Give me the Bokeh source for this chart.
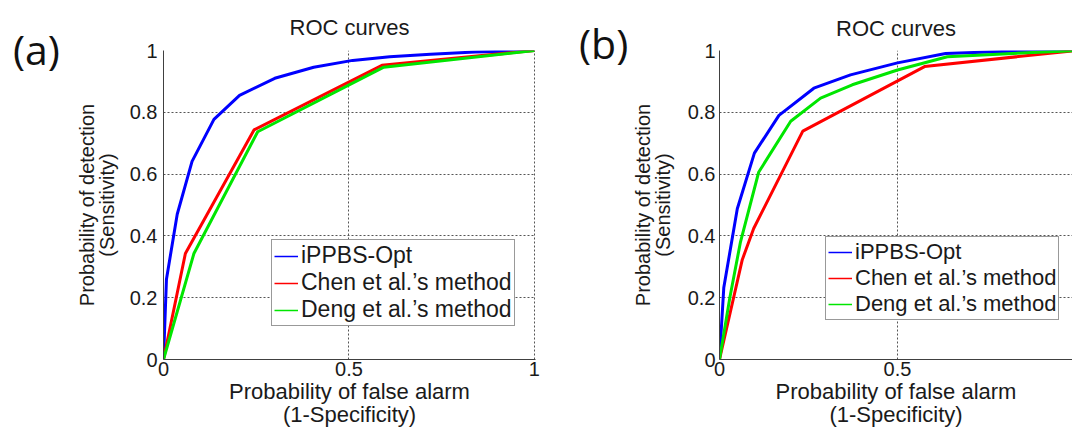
from bokeh.plotting import figure
from bokeh.models import FixedTicker, Range1d, Legend, LegendItem, Div
from bokeh.layouts import row
from bokeh.embed import file_html
from bokeh.resources import INLINE

# ---------------- data ----------------
series_names = ["iPPBS-Opt", "Chen et al.\u2019s method", "Deng et al.\u2019s method"]
series_colors = ["#0000ff", "#ff0000", "#00e600"]

# panel (a)
a_fpr_ippbs = [0, 0.008, 0.037, 0.077, 0.136, 0.205, 0.3, 0.405, 0.51, 0.61, 0.72, 0.84, 1.0]
a_tpr_ippbs = [0, 0.26, 0.47, 0.641, 0.777, 0.855, 0.91, 0.946, 0.968, 0.98, 0.988, 0.995, 1.0]
a_fpr_chen = [0, 0.059, 0.244, 0.589, 1.0]
a_tpr_chen = [0, 0.343, 0.743, 0.952, 1.0]
a_fpr_deng = [0, 0.082, 0.254, 0.594, 1.0]
a_tpr_deng = [0, 0.343, 0.737, 0.946, 1.0]

# panel (b)
b_fpr_ippbs = [0, 0.012, 0.05, 0.098, 0.167, 0.265, 0.368, 0.5, 0.635, 0.8, 1.0]
b_tpr_ippbs = [0, 0.232, 0.488, 0.668, 0.79, 0.878, 0.921, 0.96, 0.99, 0.997, 1.0]
b_fpr_chen = [0, 0.064, 0.096, 0.234, 0.576, 1.0]
b_tpr_chen = [0, 0.323, 0.424, 0.739, 0.948, 1.0]
b_fpr_deng = [0, 0.029, 0.059, 0.11, 0.2, 0.284, 0.373, 0.5, 0.64, 1.0]
b_tpr_deng = [0, 0.2, 0.381, 0.606, 0.771, 0.846, 0.889, 0.937, 0.98, 1.0]

x_ticks = [0, 0.5, 1]
x_tick_labels = ["0", "0.5", "1"]
y_ticks = [0, 0.2, 0.4, 0.6, 0.8, 1]
y_tick_labels = ["0", "0.2", "0.4", "0.6", "0.8", "1"]

title_text = "ROC curves"
x_label = "Probability of false alarm\n(1-Specificity)"
y_label = "Probability of detection\n(Sensitivity)"
panel_tags = ["(a)", "(b)"]

FONT = "Liberation Sans"
TXT = "#1a1a1a"
NAN = float("nan")


def make_panel(curves, width, border_left, border_right, border_top,
               border_bottom, x_end, legend_loc, legend_font,
               ylab_standoff, ytick_standoff, title_standoff):
    p = figure(width=width, height=432, output_backend="svg", toolbar_location=None,
               x_range=Range1d(0, x_end), y_range=Range1d(0, 1),
               min_border_left=border_left, min_border_right=border_right,
               min_border_top=border_top, min_border_bottom=border_bottom)
    p.outline_line_color = None
    p.background_fill_color = "white"
    p.border_fill_color = "white"

    p.title.text = title_text
    p.title.align = "center"
    p.title.text_font = FONT
    p.title.text_font_style = "normal"
    p.title.text_font_size = "22px"
    p.title.text_color = TXT
    p.title.standoff = title_standoff

    for ax, ticks, labels in ((p.xaxis[0], x_ticks, x_tick_labels),
                              (p.yaxis[0], y_ticks, y_tick_labels)):
        ax.ticker = FixedTicker(ticks=ticks)
        ax.major_label_overrides = {t: l for t, l in zip(ticks, labels)}
        ax.minor_tick_line_color = None
        ax.major_tick_in = 0
        ax.major_tick_out = 0
        ax.axis_line_color = "#404040"
        ax.axis_line_width = 1
        ax.major_label_text_font = FONT
        ax.major_label_text_font_size = "20px"
        ax.major_label_text_color = TXT
        ax.axis_label_text_font = FONT
        ax.axis_label_text_font_style = "normal"
        ax.axis_label_text_color = TXT
    p.xaxis.axis_label = x_label
    p.xaxis.axis_label_text_font_size = "22px"
    p.xaxis.axis_label_text_line_height = 0.92
    p.xaxis.major_label_standoff = 2
    p.xaxis.axis_label_standoff = 0
    p.yaxis.axis_label = y_label
    p.yaxis.axis_label_text_font_size = "20px"
    p.yaxis.axis_label_text_line_height = 0.9
    p.yaxis.major_label_standoff = ytick_standoff
    p.yaxis.axis_label_standoff = ylab_standoff

    for g in p.grid:
        g.grid_line_color = "#555555"
        g.grid_line_dash = "2 2"
        g.grid_line_width = 1

    items = []
    for (xs, ys), name, col in zip(curves, series_names, series_colors):
        p.line(xs, ys, line_color=col, line_width=3)
        proxy = p.line(x=[NAN], y=[NAN], line_color=col, line_width=1.5)
        items.append(LegendItem(label=name, renderers=[proxy]))

    leg = Legend(items=items, location=legend_loc)
    leg.label_text_font = FONT
    leg.label_text_font_size = legend_font
    leg.label_text_color = TXT
    leg.glyph_width = 24
    leg.glyph_height = 20
    leg.label_height = 20
    leg.label_standoff = 3
    leg.spacing = 0
    leg.padding = 2
    leg.margin = 0
    leg.border_line_color = "#333333"
    leg.border_line_width = 1
    leg.background_fill_alpha = 1
    p.add_layout(leg)
    return p


def make_tag(text, width, pad_left, pad_top):
    return Div(text=text, width=width, height=432, margin=0,
               styles={"font-family": "Open Sans", "font-size": "41px",
                       "line-height": "41px", "color": "#111111",
                       "padding-left": f"{pad_left}px", "padding-top": f"{pad_top}px",
                       "box-sizing": "border-box", "white-space": "nowrap",
                       "overflow": "visible"})


tag_a = make_tag(panel_tags[0], 62, 13, 29)
pa = make_panel([(a_fpr_ippbs, a_tpr_ippbs), (a_fpr_chen, a_tpr_chen), (a_fpr_deng, a_tpr_deng)],
                width=508, border_left=101, border_right=35, border_top=50, border_bottom=70,
                x_end=1.003, legend_loc=(108, 33), legend_font="23px",
                ylab_standoff=9, ytick_standoff=6, title_standoff=22)
tag_b = make_tag(panel_tags[1], 58, 9, 23)
pb = make_panel([(b_fpr_ippbs, b_tpr_ippbs), (b_fpr_chen, b_tpr_chen), (b_fpr_deng, b_tpr_deng)],
                width=444, border_left=91, border_right=0, border_top=47, border_bottom=73,
                x_end=0.9916, legend_loc=(106, 39), legend_font="22px",
                ylab_standoff=11, ytick_standoff=4, title_standoff=20)

layout = row(tag_a, pa, tag_b, pb)
open("out.html", "w").write(file_html(layout, INLINE))
